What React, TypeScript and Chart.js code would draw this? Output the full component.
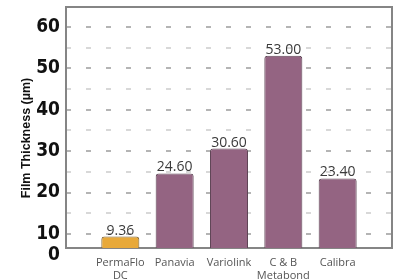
import React, { useEffect, useRef } from "react";
import { Chart, registerables } from "chart.js";

Chart.register(...registerables);

const categories: (string | string[])[] = [["PermaFlo", "DC"], "Panavia", "Variolink", ["C & B", "Metabond"], "Calibra"];
const values: number[] = [9.36, 24.6, 30.6, 53.0, 23.4];
const valueLabels: string[] = ["9.36", "24.60", "30.60", "53.00", "23.40"];
const barColors: string[] = ["#e8a93a", "#946482", "#946482", "#946482", "#946482"];
const barBorders: string[] = ["#7d6130", "#5f4656", "#5f4656", "#5f4656", "#5f4656"];
const yTickValues: number[] = [5, 10, 15, 20, 25, 30, 35, 40, 45, 50, 55, 60];
const yTitle = "Film Thickness (\u00b5m)";

export default function App() {
  const ref = useRef<HTMLCanvasElement>(null);
  useEffect(() => {
    document.body.style.margin = "0";
    const canvas = ref.current!;
    const labels = ["", ...categories, ""];
    const data = [null, ...values, null];
    const bg = ["transparent", ...barColors, "transparent"];
    const bd = ["transparent", ...barBorders, "transparent"];
    const vl = ["", ...valueLabels, ""];

    const frame = {
      id: "frame",
      beforeDatasetsDraw(chart: any) {
        const { ctx, chartArea: a } = chart;
        ctx.save();
        ctx.strokeStyle = "#858585";
        ctx.lineWidth = 2;
        ctx.strokeRect(a.left, a.top, a.right - a.left, a.bottom - a.top);
        ctx.restore();
      },
      afterDatasetsDraw(chart: any) {
        const { ctx } = chart;
        const meta = chart.getDatasetMeta(0);
        ctx.save();
        ctx.fillStyle = "#3a3a3a";
        ctx.font = "14px 'Open Sans'";
        ctx.textAlign = "center";
        ctx.textBaseline = "alphabetic";
        meta.data.forEach((el: any, i: number) => {
          if (!vl[i]) return;
          ctx.fillText(vl[i], el.x, el.y - 2);
        });
        ctx.translate(27, 138);
        ctx.rotate(-Math.PI / 2);
        ctx.fillStyle = "#111";
        ctx.font = "bold 12.5px 'Liberation Sans'";
        ctx.textBaseline = "middle";
        ctx.fillText(yTitle, 0, 0);
        ctx.restore();
      },
    };

    const chart = new Chart(canvas, {
      type: "bar",
      data: {
        labels,
        datasets: [
          {
            data,
            backgroundColor: bg,
            borderColor: bd,
            borderWidth: 1,
            borderRadius: 3,
            borderSkipped: "bottom",
            categoryPercentage: 0.7,
            barPercentage: 1,
          },
        ],
      },
      options: {
        responsive: false,
        animation: false,
        layout: { padding: { top: 7, right: 8, left: 0, bottom: 0 } },
        plugins: { legend: { display: false }, tooltip: { enabled: false } },
        scales: {
          x: {
            type: "category",
            offset: false,
            grid: { display: false },
            border: { display: false },
            afterFit(s: any) {
              s.height = 31;
              s.paddingLeft = 0;
              s.paddingRight = 0;
            },
            ticks: {
              autoSkip: false,
              maxRotation: 0,
              padding: 1,
              color: "#555",
              font: { family: "'Open Sans'", size: 11, lineHeight: 1.15 },
            },
          },
          y: {
            min: 6.6,
            max: 64.8,
            border: { display: false, dash: [5, 15] },
            afterFit(s: any) {
              s.width = 66;
              s.paddingTop = 0;
              s.paddingBottom = 0;
            },
            afterBuildTicks(s: any) {
              s.ticks = yTickValues.map((v) => ({ value: v }));
            },
            grid: {
              drawTicks: false,
              lineWidth: 2,
              color: (c: any) =>
                c.tick && c.tick.value === 5
                  ? "rgba(0,0,0,0)"
                  : c.tick && c.tick.value % 10 === 0
                  ? "#b4b4b4"
                  : "#d8d8d8",
            },
            ticks: {
              autoSkip: false,
              padding: 6,
              color: "#111",
              font: { family: "'Liberation Sans Narrow', 'DejaVu Sans Condensed'", size: 19, weight: "bold" },
              callback: (v: any) => (v === 5 ? "0" : v % 10 === 0 ? String(v) : ""),
            },
          },
        },
      },
      plugins: [frame],
    } as any);
    return () => chart.destroy();
  }, []);
  return <canvas ref={ref} width={400} height={279} style={{ display: "block", width: 400, height: 279 }} />;
}
